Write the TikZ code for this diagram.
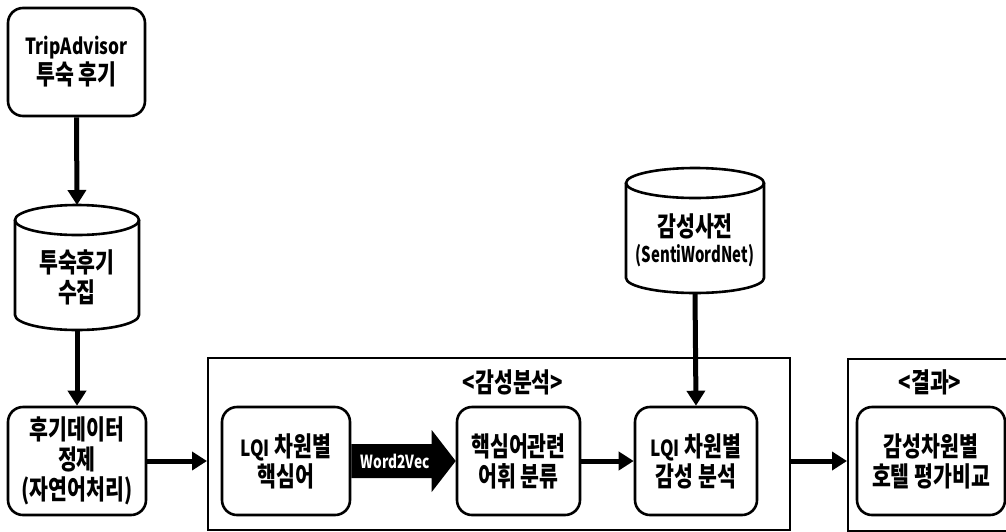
\documentclass[tikz,border=0pt]{standalone}
\usepackage{fontspec}
\setmainfont{Noto Sans CJK KR}[FakeStretch=0.76]
\newfontfamily\lat{Noto Sans CJK KR}[Scale=0.8, FakeStretch=0.69]
\newfontfamily\latw{Noto Sans CJK KR}[Scale=0.82, FakeStretch=0.78]
\usetikzlibrary{arrows.meta,calc}
\tikzset{
  txt/.style={font=\fontsize{27}{30}\selectfont\bfseries, align=center},
  rbox/.style={txt, draw, line width=2.6pt, rounded corners=15pt, inner sep=0pt},
  frame/.style={draw, line width=2pt, inner sep=0pt},
  cyl/.style={line width=2.6pt},
  flow/.style={line width=5pt, -{Triangle[length=15pt,width=18pt]}},
}
\begin{document}
\begin{tikzpicture}[x=1pt,y=-1pt]
\useasboundingbox (0,0) rectangle (1006,531);
\clip (0,0) rectangle (1006,531);
% frames
\node[frame, minimum width=582pt, minimum height=172pt, anchor=north west] (frame1) at (207,357) {};
\node[frame, minimum width=200pt, minimum height=172pt, anchor=north west] (frame2) at (847,358) {};
\node[txt] (t1) at (513,382) {<감성분석>};
\node[txt] (t2) at (930,382) {<결과>};
% boxes
\node[rbox, minimum width=137pt, minimum height=108pt] (trip) at (76.5,62) {{\latw TripAdvisor}\\투숙 후기};
\node[rbox, minimum width=138pt, minimum height=108pt] (clean) at (77,461) {후기데이터\\정제\\(자연어처리)};
\node[rbox, minimum width=128pt, minimum height=108pt] (kw) at (286,461) {{\latw LQI} 차원별\\핵심어};
\node[rbox, minimum width=123pt, minimum height=108pt] (rel) at (518.5,461) {핵심어관련\\어휘 분류};
\node[rbox, minimum width=122pt, minimum height=108pt] (sent) at (696,461) {{\latw LQI} 차원별\\감성 분석};
\node[rbox, minimum width=148pt, minimum height=108pt] (res) at (931,461) {감성차원별\\호텔 평가비교};
% cylinder 1
\draw[cyl] (77,220) ellipse [x radius=62, y radius=15];
\draw[cyl] (15,220) -- (15,315) arc[start angle=180, end angle=0, x radius=62, y radius=15] -- (139,220);
\coordinate (collecttop) at (77,205);
\coordinate (collectbot) at (77,330);
\node[txt] (collect) at (77,277) {투숙후기\\수집};
% cylinder 2
\draw[cyl] (695,183) ellipse [x radius=69, y radius=15];
\draw[cyl] (626,183) -- (626,278) arc[start angle=180, end angle=0, x radius=69, y radius=15] -- (764,183);
\coordinate (dicttop) at (695,168);
\coordinate (dictbot) at (695,293);
\node[txt, font=\fontsize{27}{26}\selectfont\bfseries] (dict) at (695,240) {감성사전\\{\lat (SentiWordNet)}};
% arrows
\draw[flow] (trip.south) -- (collecttop);
\draw[flow] (collectbot) -- (clean.north);
\draw[flow] (clean.east) -- (clean.east -| frame1.west);
\draw[flow] (rel.east) -- (sent.west);
\draw[flow] (dictbot) -- (sent.north);
\draw[flow] (sent.east -| frame1.east) -- (sent.east -| frame2.west);
% Word2Vec big arrow
\fill ($(kw.east)+(0,-17)$) -- ($(rel.west)+(-24,-17)$) -- ($(rel.west)+(-24,-31)$) -- (rel.west)
  -- ($(rel.west)+(-24,31)$) -- ($(rel.west)+(-24,17)$) -- ($(kw.east)+(0,17)$) -- cycle;
\node[font=\fontsize{18}{18}\selectfont\bfseries, text=white] (w2v) at ($(kw.east)!0.42!(rel.west)$) {Word2Vec};
\end{tikzpicture}
\end{document}
